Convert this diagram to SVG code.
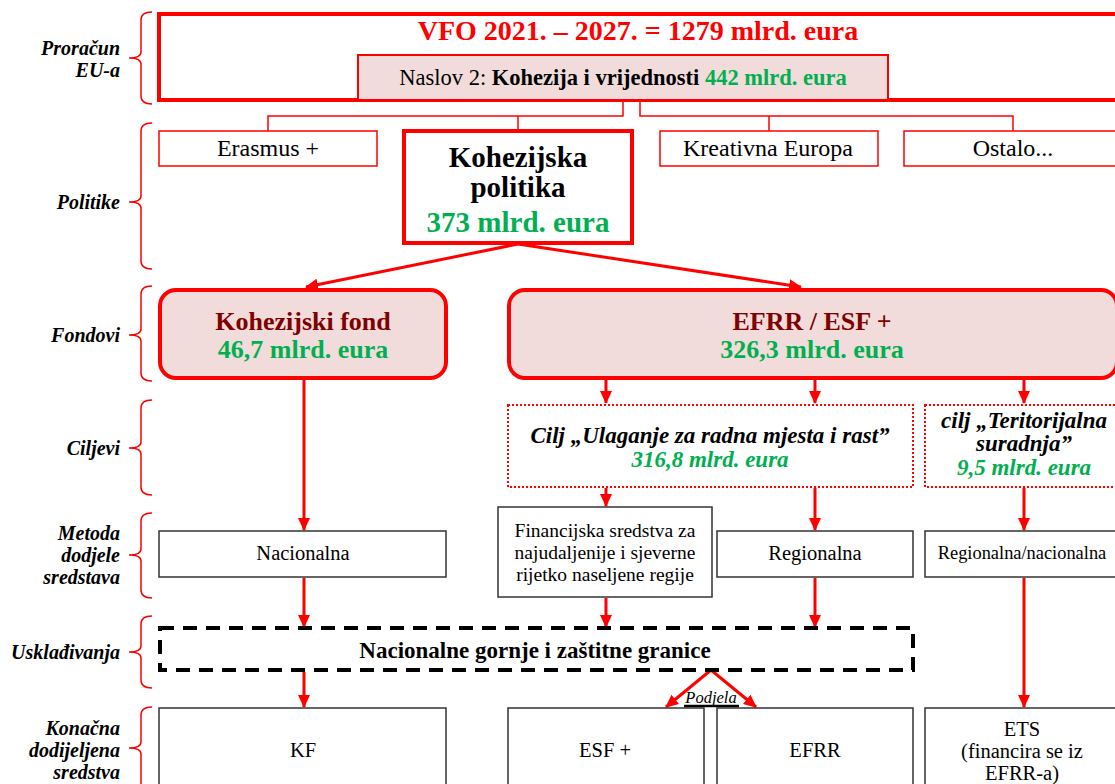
<svg xmlns="http://www.w3.org/2000/svg" width="1115" height="784" viewBox="0 0 1115 784">
<defs>
<marker id="ah" markerUnits="userSpaceOnUse" markerWidth="14" markerHeight="12" refX="12" refY="6" orient="auto">
<path d="M0,0 L13,6 L0,12 z" fill="#ff0000"/>
</marker>
<style>
text{font-family:"Liberation Serif","DejaVu Serif",serif;}
.lbl{font-size:20px;font-weight:bold;font-style:italic;text-anchor:end;fill:#000;}
.brace{fill:none;stroke:#ff0000;stroke-width:1.5;}
.c{text-anchor:middle;}
.g{fill:#00b050;}
.dr{fill:#7f0000;}
.thinred{fill:#fff;stroke:#ff0000;stroke-width:1.5;}
.blk{fill:#fff;stroke:#333;stroke-width:1.5;}
.fund{fill:#f2dcdb;stroke:#ff0000;stroke-width:4;}
.dot{fill:#fff;stroke:#ff0000;stroke-width:2;stroke-dasharray:2 2;}
.conn{fill:none;stroke:#ff0000;stroke-width:3;}
.thin{fill:none;stroke:#ff0000;stroke-width:1.5;}
.pol{font-size:24px;}
.fb{font-size:26px;font-weight:bold;}
.ci{font-size:23px;font-weight:bold;font-style:italic;}
.m{font-size:20.5px;}
</style>
</defs>

<g id="labels">
<text class="lbl" x="120" y="55">Proračun</text>
<text class="lbl" x="120" y="77">EU-a</text>
<text class="lbl" x="120" y="209">Politike</text>
<text class="lbl" x="120" y="342">Fondovi</text>
<text class="lbl" x="120" y="455">Ciljevi</text>
<text class="lbl" x="120" y="540">Metoda</text>
<text class="lbl" x="120" y="562">dodjele</text>
<text class="lbl" x="120" y="584">sredstava</text>
<text class="lbl" x="120" y="659">Usklađivanja</text>
<text class="lbl" x="120" y="735">Konačna</text>
<text class="lbl" x="120" y="757">dodijeljena</text>
<text class="lbl" x="120" y="779">sredstva</text>
</g>

<g id="braces">
<path class="brace" d="M152,12 Q141,12 141,20 L141,52 Q141,58 129,58 Q141,58 141,64 L141,96 Q141,104 152,104"/>
<path class="brace" d="M152,123 Q141,123 141,131 L141,196 Q141,202 129,202 Q141,202 141,208 L141,261 Q141,269 152,269"/>
<path class="brace" d="M152,286 Q141,286 141,294 L141,329 Q141,335 129,335 Q141,335 141,341 L141,373 Q141,381 152,381"/>
<path class="brace" d="M152,400 Q141,400 141,408 L141,442 Q141,448 129,448 Q141,448 141,454 L141,487 Q141,495 152,495"/>
<path class="brace" d="M152,513 Q141,513 141,521 L141,549 Q141,555 129,555 Q141,555 141,561 L141,590 Q141,598 152,598"/>
<path class="brace" d="M152,616 Q141,616 141,624 L141,646 Q141,652 129,652 Q141,652 141,658 L141,680 Q141,688 152,688"/>
<path class="brace" d="M152,707 Q141,707 141,715 L141,742 Q141,748 129,748 Q141,748 141,754 L141,790"/>
</g>

<g id="connectors">
<path class="thin" d="M623,102 L623,116 L268,116 L268,131"/>
<path class="thin" d="M518,116 L518,130"/>
<path class="thin" d="M640,102 L640,116 L1013,116 L1013,131"/>
<path class="thin" d="M769,116 L769,131"/>
<line class="conn" x1="518" y1="244" x2="306" y2="287" marker-end="url(#ah)"/>
<line class="conn" x1="518" y1="244" x2="801" y2="287" marker-end="url(#ah)"/>
<line class="conn" x1="304" y1="380" x2="304" y2="530" marker-end="url(#ah)"/>
<line class="conn" x1="606" y1="380" x2="606" y2="403" marker-end="url(#ah)"/>
<line class="conn" x1="815" y1="380" x2="815" y2="403" marker-end="url(#ah)"/>
<line class="conn" x1="1024" y1="380" x2="1024" y2="403" marker-end="url(#ah)"/>
<line class="conn" x1="606" y1="488" x2="606" y2="506" marker-end="url(#ah)"/>
<line class="conn" x1="815" y1="488" x2="815" y2="530" marker-end="url(#ah)"/>
<line class="conn" x1="1024" y1="488" x2="1024" y2="530" marker-end="url(#ah)"/>
<line class="conn" x1="304" y1="578" x2="304" y2="627" marker-end="url(#ah)"/>
<line class="conn" x1="606" y1="598" x2="606" y2="627" marker-end="url(#ah)"/>
<line class="conn" x1="815" y1="578" x2="815" y2="627" marker-end="url(#ah)"/>
<line class="conn" x1="1024" y1="578" x2="1024" y2="707" marker-end="url(#ah)"/>
<line class="conn" x1="304" y1="672" x2="304" y2="707" marker-end="url(#ah)"/>
<line class="conn" x1="711" y1="670" x2="666" y2="707" marker-end="url(#ah)"/>
<line class="conn" x1="711" y1="670" x2="756" y2="707" marker-end="url(#ah)"/>
</g>

<g id="vfo">
<rect x="159" y="14" width="965" height="86" fill="#fff" stroke="#ff0000" stroke-width="4"/>
<text class="c" x="638" y="40" font-size="28" font-weight="bold" fill="#ff0000">VFO 2021. – 2027. = 1279 mlrd. eura</text>
</g>

<g id="naslov">
<rect x="358" y="55" width="530" height="45" fill="#f2dcdb" stroke="#ff0000" stroke-width="2"/>
<text class="c" x="623" y="85" font-size="22.5">Naslov 2: <tspan font-weight="bold">Kohezija i vrijednosti</tspan> <tspan font-weight="bold" class="g">442 mlrd. eura</tspan></text>
</g>

<g id="erasmus">
<rect class="thinred" x="159" y="131" width="218" height="35"/>
<text class="c pol" x="268" y="156">Erasmus +</text>
</g>

<g id="kohezijska-politika">
<rect x="404" y="131" width="228" height="112" fill="#fff" stroke="#ff0000" stroke-width="4"/>
<text class="c" x="518" y="167" font-size="29" font-weight="bold">Kohezijska</text>
<text class="c" x="518" y="197" font-size="29" font-weight="bold">politika</text>
<text class="c g" x="518" y="232" font-size="29" font-weight="bold">373 mlrd. eura</text>
</g>

<g id="kreativna">
<rect class="thinred" x="660" y="131" width="218" height="35"/>
<text class="c pol" x="768" y="156">Kreativna Europa</text>
</g>

<g id="ostalo">
<rect class="thinred" x="904" y="131" width="220" height="35"/>
<text class="c pol" x="1013" y="156">Ostalo...</text>
</g>

<g id="kohezijski-fond">
<rect class="fund" x="160" y="290" width="286" height="88" rx="16"/>
<text class="c dr fb" x="303" y="330">Kohezijski fond</text>
<text class="c g fb" x="303" y="358">46,7 mlrd. eura</text>
</g>

<g id="efrr-esf">
<rect class="fund" x="509" y="290" width="608" height="88" rx="16"/>
<text class="c dr fb" x="812" y="330">EFRR / ESF +</text>
<text class="c g fb" x="812" y="358">326,3 mlrd. eura</text>
</g>

<g id="cilj-ulaganje">
<rect class="dot" x="508" y="405" width="405" height="82"/>
<text class="c ci" x="710" y="443">Cilj „Ulaganje za radna mjesta i rast”</text>
<text class="c g ci" x="710" y="467">316,8 mlrd. eura</text>
</g>

<g id="cilj-teritorijalna">
<rect class="dot" x="925" y="405" width="195" height="82"/>
<text class="c ci" x="1024" y="428">cilj „Teritorijalna</text>
<text class="c ci" x="1024" y="451">suradnja”</text>
<text class="c g ci" x="1024" y="475">9,5 mlrd. eura</text>
</g>

<g id="nacionalna">
<rect class="blk" x="159" y="531" width="287" height="46"/>
<text class="c m" x="303" y="560">Nacionalna</text>
</g>

<g id="financijska">
<rect class="blk" x="498" y="507" width="214" height="90"/>
<text class="c" x="605" y="537" font-size="19.5">Financijska sredstva za</text>
<text class="c" x="605" y="559" font-size="19.5">najudaljenije i sjeverne</text>
<text class="c" x="605" y="581" font-size="19.5">rijetko naseljene regije</text>
</g>

<g id="regionalna">
<rect class="blk" x="717" y="531" width="196" height="46"/>
<text class="c m" x="815" y="560">Regionalna</text>
</g>

<g id="regionalna-nacionalna">
<rect class="blk" x="925" y="531" width="195" height="46"/>
<text class="c" x="1022" y="559" font-size="18.4">Regionalna/nacionalna</text>
</g>

<g id="uskladivanja">
<rect x="160" y="628" width="753" height="42" fill="#fff" stroke="#000" stroke-width="4" stroke-dasharray="14 9"/>
<text class="c" x="535" y="658" font-size="23" font-weight="bold">Nacionalne gornje i zaštitne granice</text>
</g>

<g id="podjela">
<text class="c" x="711" y="703" font-size="16.5" font-style="italic">Podjela</text>
<line x1="684" y1="706" x2="739" y2="706" stroke="#000" stroke-width="2.5"/>
</g>

<g id="kf">
<rect class="blk" x="159" y="708" width="287" height="90"/>
<text class="c m" x="303" y="757">KF</text>
</g>

<g id="esf">
<rect class="blk" x="508" y="708" width="196" height="90"/>
<text class="c m" x="605" y="757">ESF +</text>
</g>

<g id="efrr">
<rect class="blk" x="717" y="708" width="196" height="90"/>
<text class="c m" x="815" y="757">EFRR</text>
</g>

<g id="ets">
<rect class="blk" x="925" y="708" width="195" height="90"/>
<text class="c m" x="1022" y="736">ETS</text>
<text class="c m" x="1022" y="758">(financira se iz</text>
<text class="c m" x="1022" y="780">EFRR-a)</text>
</g>
</svg>
